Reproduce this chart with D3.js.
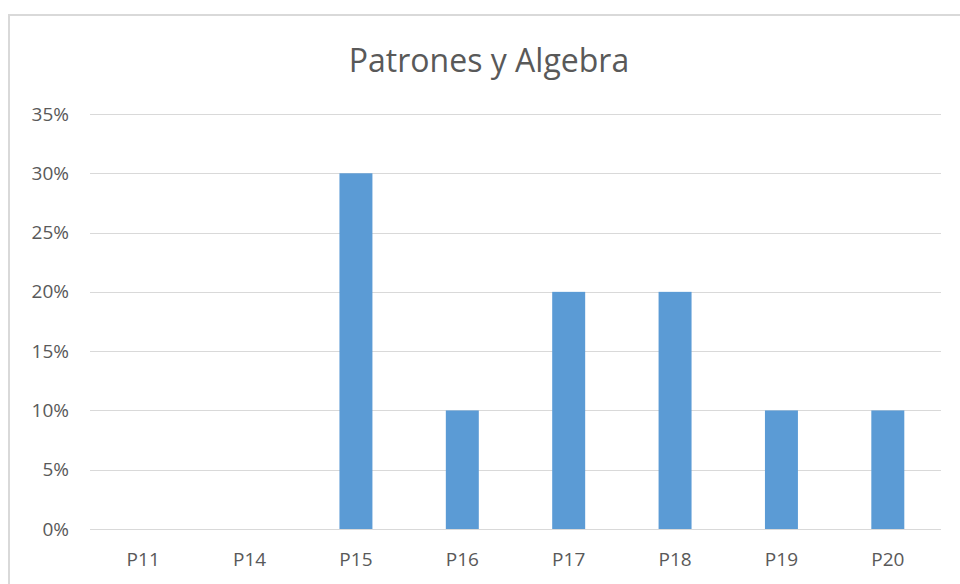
<!DOCTYPE html>
<html>
<head>
<meta charset="utf-8">
<script src="https://cdn.jsdelivr.net/npm/d3@7"></script>
<style>
  html, body { margin: 0; padding: 0; background: #fff; }
  svg { display: block; }
</style>
</head>
<body>
<svg id="chart" width="960" height="584"></svg>
<script>
const categories = ["P11", "P14", "P15", "P16", "P17", "P18", "P19", "P20"];
const values = [0, 0, 0.30, 0.10, 0.20, 0.20, 0.10, 0.10];
const yTicks = [0, 0.05, 0.10, 0.15, 0.20, 0.25, 0.30, 0.35];
const title = "Patrones y Algebra";

const svg = d3.select("#chart");
const font = "'Open Sans', 'Liberation Sans', sans-serif";

// chart area frame
svg.append("rect")
  .attr("x", 9).attr("y", 15)
  .attr("width", 980).attr("height", 600)
  .attr("fill", "#fff")
  .attr("stroke", "#d9d9d9")
  .attr("stroke-width", 2);

const plotLeft = 90, plotRight = 941, plotTop = 114, plotBottom = 529;

const x = d3.scaleBand()
  .domain(categories)
  .range([plotLeft, plotRight])
  .paddingInner(0.69)
  .paddingOuter(0.345);

const y = d3.scaleLinear()
  .domain([0, 0.35])
  .range([plotBottom, plotTop]);

// horizontal gridlines
svg.append("g")
  .selectAll("line")
  .data(yTicks)
  .join("line")
  .attr("x1", plotLeft).attr("x2", plotRight)
  .attr("y1", d => Math.round(y(d)) + 0.5)
  .attr("y2", d => Math.round(y(d)) + 0.5)
  .attr("stroke", "#d9d9d9")
  .attr("stroke-width", 1);

// y axis labels
const yAxis = d3.axisLeft(y)
  .tickValues(yTicks)
  .tickFormat(d3.format(".0%"))
  .tickSize(0)
  .tickPadding(0);
svg.append("g")
  .attr("transform", `translate(69,0)`)
  .call(yAxis)
  .call(g => g.select(".domain").remove())
  .call(g => g.selectAll("text")
    .attr("fill", "#595959")
    .style("font-family", font)
    .style("font-size", "19px"));

// bars
svg.append("g")
  .selectAll("rect")
  .data(categories.map((c, i) => ({ c, v: values[i] })))
  .join("rect")
  .attr("x", d => x(d.c))
  .attr("y", d => y(d.v))
  .attr("width", x.bandwidth())
  .attr("height", d => y(0) - y(d.v))
  .attr("fill", "#5b9bd5");

// x axis labels
const xAxis = d3.axisBottom(x).tickSize(0).tickPadding(0);
svg.append("g")
  .attr("transform", `translate(0,552)`)
  .call(xAxis)
  .call(g => g.select(".domain").remove())
  .call(g => g.selectAll("text")
    .attr("fill", "#595959")
    .style("font-family", font)
    .style("font-size", "19px"));

// title
svg.append("text")
  .attr("x", 489).attr("y", 72)
  .attr("text-anchor", "middle")
  .attr("fill", "#595959")
  .style("font-family", font)
  .style("font-size", "32px")
  .text(title);
</script>
</body>
</html>
